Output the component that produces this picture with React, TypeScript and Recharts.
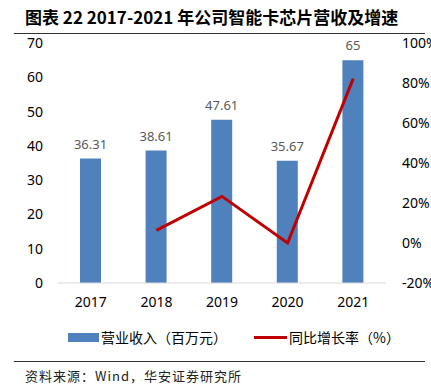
import { Bar, ComposedChart, LabelList, Line, XAxis, YAxis } from 'recharts';

const years = ['2017', '2018', '2019', '2020', '2021'];
const revenue = [36.31, 38.61, 47.61, 35.67, 65];
const growth: (number | null)[] = [null, 6.3, 23.3, 0, 82.2];
const leftTicks = [0, 10, 20, 30, 40, 50, 60, 70];
const rightTicks = [-20, 0, 20, 40, 60, 80, 100];

const data = years.map((year, i) => ({
  year,
  revenue: revenue[i],
  growth: growth[i],
}));

const font = '"Noto Sans", "Noto Sans CJK SC", sans-serif';
const tickStyle = { fontSize: 14, fill: '#000', fontFamily: font };

export default function App() {
  return (
    <div
      style={{
        position: 'absolute',
        top: 0,
        left: 0,
        width: 431,
        height: 389,
        background: '#fff',
        overflow: 'hidden',
        fontFamily: font,
      }}
    >
      <div
        style={{
          position: 'absolute',
          left: 25,
          top: 4,
          fontSize: 17,
          fontWeight: 'bold',
          whiteSpace: 'nowrap',
          fontFamily: '"Noto Sans CJK SC", sans-serif',
        }}
      >
        图表 22 2017-2021 年公司智能卡芯片营收及增速
      </div>
      <div
        style={{
          position: 'absolute',
          left: 14,
          top: 33,
          width: 411,
          height: 1,
          background: '#333',
        }}
      />
      <div style={{ position: 'absolute', left: 0, top: 0 }}>
        <ComposedChart
          width={431}
          height={320}
          data={data}
          margin={{ top: 43, right: 0, bottom: 7, left: 0 }}
        >
          <XAxis
            dataKey='year'
            height={30}
            tickLine={false}
            tickSize={6}
            tickMargin={8}
            axisLine={{ stroke: '#d9d9d9' }}
            tick={tickStyle}
          />
          <YAxis
            yAxisId='left'
            width={58}
            domain={[0, 70]}
            ticks={leftTicks}
            axisLine={false}
            tickLine={false}
            tickSize={6}
            tickMargin={9}
            tick={tickStyle}
            interval={0}
          />
          <YAxis
            yAxisId='right'
            orientation='right'
            width={45}
            domain={[-20, 100]}
            ticks={rightTicks}
            axisLine={false}
            tickLine={false}
            tickSize={6}
            tickMargin={10}
            tick={{ ...tickStyle, textAnchor: 'start' }}
            tickFormatter={(v) => `${v}%`}
            interval={0}
          />
          <Bar
            yAxisId='left'
            dataKey='revenue'
            fill='#4f81bd'
            barSize={21}
            isAnimationActive={false}
          >
            <LabelList
              dataKey='revenue'
              position='top'
              offset={10}
              style={{ fontSize: 13, fill: '#595959', fontFamily: font }}
            />
          </Bar>
          <Line
            yAxisId='right'
            dataKey='growth'
            stroke='#c00000'
            strokeWidth={3}
            dot={false}
            type='linear'
            isAnimationActive={false}
          />
        </ComposedChart>
      </div>
      <div
        style={{
          position: 'absolute',
          left: 68,
          top: 333,
          width: 31,
          height: 9,
          background: '#4f81bd',
        }}
      />
      <div
        style={{
          position: 'absolute',
          left: 101,
          top: 327,
          fontSize: 14,
          whiteSpace: 'nowrap',
          fontFamily: '"Noto Sans CJK SC", sans-serif',
        }}
      >
        营业收入（百万元）
      </div>
      <div
        style={{
          position: 'absolute',
          left: 254,
          top: 336,
          width: 33,
          height: 3,
          background: '#c00000',
        }}
      />
      <div
        style={{
          position: 'absolute',
          left: 289,
          top: 327,
          fontSize: 14,
          whiteSpace: 'nowrap',
          fontFamily: '"Noto Sans CJK SC", sans-serif',
        }}
      >
        同比增长率（%）
      </div>
      <div
        style={{
          position: 'absolute',
          left: 14,
          top: 361,
          width: 411,
          height: 1,
          background: '#333',
        }}
      />
      <div
        style={{
          position: 'absolute',
          left: 25,
          top: 366,
          fontSize: 13,
          letterSpacing: 1,
          whiteSpace: 'nowrap',
          color: '#222',
          fontFamily: '"Noto Sans CJK SC", monospace',
        }}
      >
        资料来源：Wind，华安证券研究所
      </div>
    </div>
  );
}
